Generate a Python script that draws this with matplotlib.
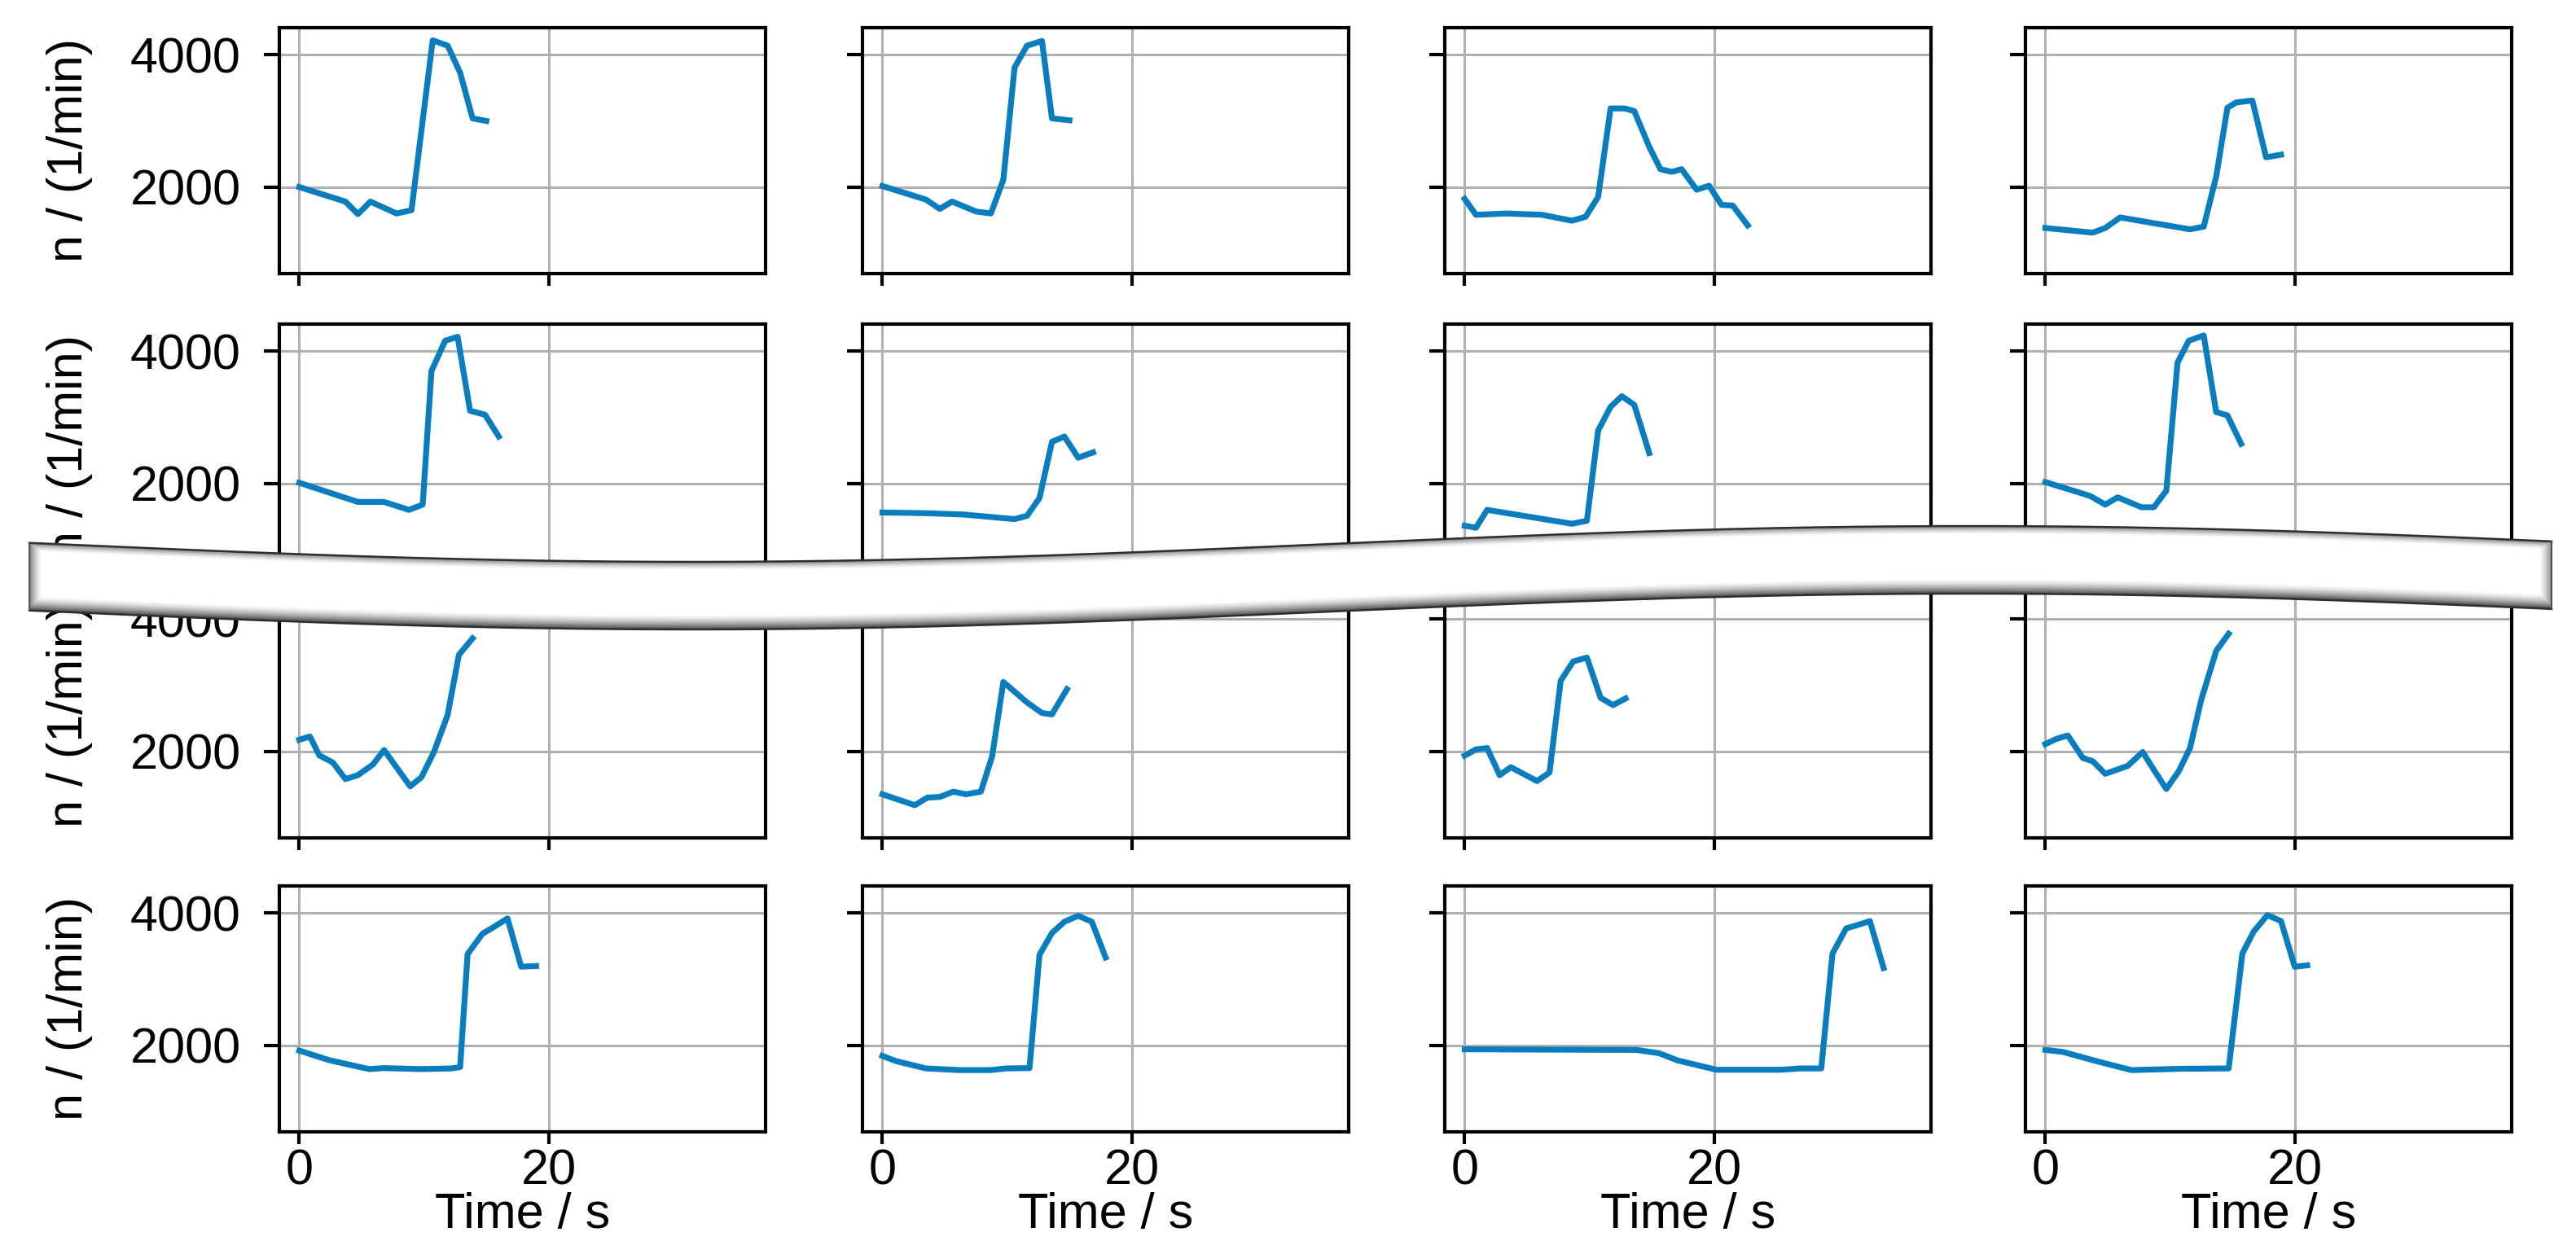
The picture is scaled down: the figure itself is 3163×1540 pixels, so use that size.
import numpy as np
import matplotlib
matplotlib.use('Agg')
import matplotlib.pyplot as plt

plt.rcParams['font.family'] = ['Liberation Sans', 'DejaVu Sans']

W, H = 3163, 1540
LINE = '#0a7dbf'

# speed traces (time in s, speed in 1/min)
# row 1
t11 = [0, 3.7, 4.7, 5.7, 7.8, 9.0, 10.7, 11.9, 12.9, 13.9, 15.0]
n11 = [2000, 1780, 1590, 1780, 1600, 1650, 4220, 4140, 3730, 3040, 3000]
t12 = [0, 3.5, 4.6, 5.6, 7.5, 8.7, 9.7, 10.6, 11.6, 12.8, 13.6, 15.0]
n12 = [2015, 1810, 1670, 1780, 1630, 1600, 2110, 3810, 4140, 4210, 3040, 3010]
t13 = [0, 0.9, 3.3, 6.2, 8.6, 9.7, 10.7, 11.7, 12.8, 13.6, 14.8, 15.7, 16.6,
       17.4, 18.6, 19.6, 20.6, 21.5, 22.7]
n13 = [1820, 1580, 1600, 1580, 1490, 1550, 1850, 3190, 3190, 3150, 2610, 2270, 2230,
       2270, 1960, 2020, 1730, 1720, 1420]
t14 = [0, 3.8, 4.8, 6.0, 11.6, 12.7, 13.7, 14.6, 15.3, 16.6, 17.7, 18.9]
n14 = [1380, 1310, 1380, 1540, 1360, 1400, 2160, 3200, 3280, 3310, 2450, 2490]
# row 2
t21 = [0, 4.7, 6.8, 8.8, 9.9, 10.6, 11.7, 12.7, 13.7, 14.9, 16.0]
n21 = [2010, 1720, 1720, 1600, 1680, 3700, 4160, 4220, 3100, 3040, 2710]
t22 = [0, 3.5, 6.5, 10.6, 11.6, 12.6, 13.6, 14.6, 15.7, 16.9]
n22 = [1560, 1550, 1530, 1460, 1510, 1780, 2630, 2710, 2390, 2470]
t23 = [0, 0.9, 1.8, 8.6, 9.8, 10.7, 11.7, 12.6, 13.6, 14.8]
n23 = [1360, 1330, 1600, 1390, 1435, 2800, 3160, 3320, 3190, 2460]
t24 = [0, 3.6, 4.8, 5.8, 7.7, 8.7, 9.7, 10.6, 11.5, 12.7, 13.7, 14.6, 15.7]
n24 = [2020, 1810, 1680, 1790, 1640, 1640, 1890, 3830, 4160, 4240, 3080, 3030, 2600]
# row 3
t31 = [0, 0.85, 1.6, 2.7, 3.7, 4.7, 5.9, 6.8, 8.9, 9.8, 10.8, 11.9, 12.8, 13.9]
n31 = [2175, 2225, 1940, 1830, 1580, 1640, 1800, 2020, 1470, 1610, 1990, 2550, 3460, 3710]
t32 = [0, 2.6, 3.6, 4.6, 5.7, 6.7, 7.9, 8.8, 9.7, 11.6, 12.8, 13.6, 14.8]
n32 = [1350, 1185, 1300, 1310, 1390, 1350, 1390, 1925, 3050, 2740, 2580, 2560, 2940]
t33 = [0, 0.9, 1.8, 2.8, 3.7, 5.8, 6.8, 7.7, 8.7, 9.8, 10.9, 11.9, 12.9]
n33 = [1935, 2030, 2050, 1640, 1760, 1550, 1680, 3070, 3360, 3420, 2810, 2700, 2800]
t34 = [0, 0.9, 1.8, 3.0, 3.8, 4.8, 6.6, 7.8, 8.7, 9.7, 10.7, 11.6, 12.5, 13.7, 14.7]
n34 = [2110, 2190, 2240, 1900, 1850, 1660, 1780, 1990, 1720, 1430, 1700, 2050, 2780, 3520, 3780]
# row 4
t41 = [0, 2.4, 3.7, 5.6, 6.8, 9.8, 12.2, 12.9, 13.5, 14.7, 15.6, 16.7, 17.8, 19.0]
n41 = [1920, 1775, 1720, 1640, 1655, 1640, 1650, 1670, 3380, 3690, 3790, 3920, 3190, 3200]
t42 = [0, 1.1, 3.5, 6.2, 8.7, 9.9, 11.8, 12.6, 13.6, 14.6, 15.7, 16.8, 17.9]
n42 = [1840, 1760, 1650, 1625, 1625, 1650, 1655, 3370, 3700, 3870, 3960, 3870, 3330]
t43 = [0, 13.8, 15.6, 17.1, 20.2, 25.4, 26.9, 28.6, 29.5, 30.6, 31.5, 32.5, 33.6]
n43 = [1940, 1930, 1880, 1770, 1630, 1630, 1650, 1650, 3390, 3770, 3820, 3880, 3170]
t44 = [0, 1.4, 4.2, 6.9, 10.9, 14.7, 15.8, 16.7, 17.8, 18.9, 20.0, 21.0]
n44 = [1930, 1900, 1755, 1625, 1645, 1650, 3390, 3720, 3970, 3880, 3190, 3210]

traces = [[(t11, n11), (t12, n12), (t13, n13), (t14, n14)],
          [(t21, n21), (t22, n22), (t23, n23), (t24, n24)],
          [(t31, n31), (t32, n32), (t33, n33), (t34, n34)],
          [(t41, n41), (t42, n42), (t43, n43), (t44, n44)]]

x_ticks = [0, 20]
y_ticks = [2000, 4000]

# panel layout in pixels
lefts = [343, 1059, 1774, 2487]
tops = [34, 398, 727, 1088]
aw, ah = 597, 302

fig = plt.figure(figsize=(W / 100, H / 100), dpi=100)
first = None
for r in range(4):
    for c in range(4):
        rect = [lefts[c] / W, (H - tops[r] - ah) / H, aw / W, ah / H]
        ax = fig.add_axes(rect, sharex=first, sharey=first)
        if first is None:
            first = ax
        t, n = traces[r][c]
        ax.plot(t, n, color=LINE, lw=5.2)
        ax.set_xlim(-1.6, 37.4)
        ax.set_ylim(690, 4412)
        ax.set_xticks(x_ticks)
        ax.set_yticks(y_ticks)
        ax.grid(True, color='#b0b0b0', lw=2.2)
        for s in ax.spines.values():
            s.set_linewidth(3.0)
        ax.tick_params(axis='y', length=14, width=3.0, pad=20, labelsize=44,
                       labelleft=(c == 0))
        ax.tick_params(axis='x', length=11, width=3.0, pad=4, labelsize=44,
                       labelbottom=(r == 3))
        if c == 0:
            ax.set_ylabel('n / (1/min)', fontsize=44)
            ax.yaxis.set_label_coords(-0.383, 0.5)
        if r == 3:
            ax.set_xlabel('Time / s', fontsize=44)
            ax.xaxis.set_label_coords(0.5, -0.245)

# wavy break band drawn on top of the middle rows
ov = fig.add_axes([0, 0, 1, 1], zorder=10)
ov.set_axis_off()
bx0, bx1 = 36, 3133


def centre(x):
    return 709 + 22 * np.sin(2 * np.pi * (x - 65) / 3140)


xs = np.arange(bx0, bx1 + 1)
ys = np.arange(600, 800)
X, Y = np.meshgrid(xs, ys)
top = centre(X) - 41
bot = centre(X) + 42
inside = (Y >= top) & (Y <= bot)


def ramp(d, w):
    return np.clip(1 - d / w, 0, 1) ** 1.5


dark = np.maximum.reduce([0.55 * ramp(Y - top, 11), 0.7 * ramp(bot - Y, 18),
                          0.5 * ramp(X - bx0, 16), 0.5 * ramp(bx1 - X, 16)])
g = 1 - dark
img = np.dstack([g, g, g, inside.astype(float)])
ov.imshow(img, extent=(bx0 - 0.5, bx1 + 0.5, 799.5, 599.5), origin='upper',
          interpolation='bilinear', aspect='auto')
ov.plot(xs, centre(xs) - 41, color='#2e2e2e', lw=1.8)
ov.plot(xs, centre(xs) + 42, color='#2e2e2e', lw=1.8)
for xe in (bx0, bx1):
    ov.plot([xe, xe], [centre(xe) - 41, centre(xe) + 42], color='#4a4a4a', lw=1.3)
ov.set_xlim(0, W)
ov.set_ylim(H, 0)

fig.savefig('out.png', dpi=100)
